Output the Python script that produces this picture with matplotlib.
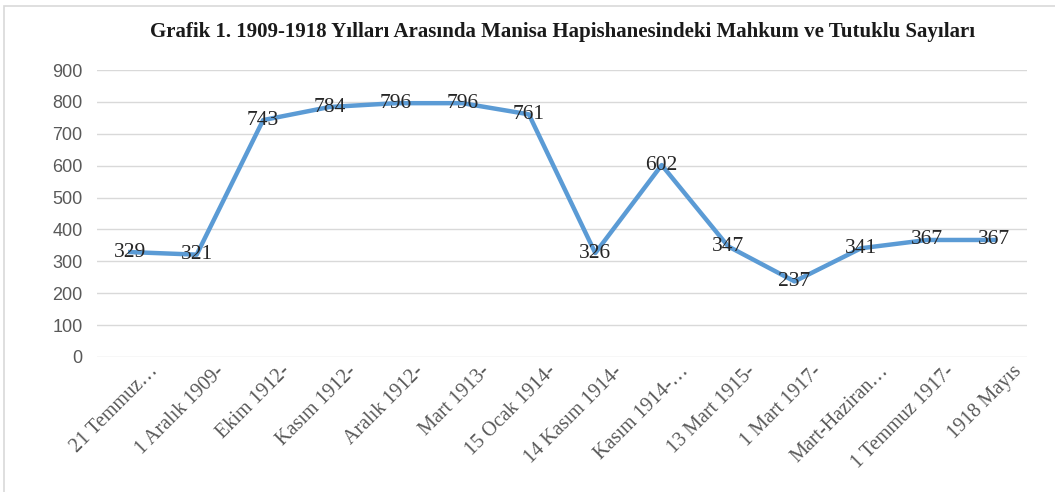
import matplotlib
matplotlib.use('Agg')
import matplotlib.pyplot as plt
import matplotlib.transforms as mtransforms
from matplotlib.patches import Rectangle

# Data
categories = ['21 Temmuz…', '1 Aralık 1909-', 'Ekim 1912-', 'Kasım 1912-',
              'Aralık 1912-', 'Mart 1913-', '15 Ocak 1914-', '14 Kasım 1914-',
              'Kasım 1914-…', '13 Mart 1915-', '1 Mart 1917-', 'Mart-Haziran…',
              '1 Temmuz 1917-', '1918 Mayıs']
values = [329, 321, 743, 784, 796, 796, 761, 326, 602, 347, 237, 341, 367, 367]
yticks = list(range(0, 1000, 100))

title = 'Grafik 1. 1909-1918 Yılları Arasında Manisa Hapishanesindeki Mahkum ve Tutuklu Sayıları'

fig = plt.figure(figsize=(10.55, 4.92), dpi=100)
ax = fig.add_axes([0.092, 0.2744, 0.8815, 0.5833])

# outer frame
fig.patches.append(Rectangle((4/1055, -0.1), 1.2, 1 - 6/492 + 0.1, transform=fig.transFigure,
                             fill=False, edgecolor='#d9d9d9', linewidth=1.2))

x = list(range(len(categories)))
ax.plot(x, values, color='#5b9bd5', linewidth=3.2, solid_joinstyle='round', zorder=3)
for xi, v in zip(x, values):
    ax.text(xi, v, str(v), ha='center', va='center', fontsize=15.5,
            family='Liberation Serif', color='#262626', zorder=4)

ax.set_xlim(-0.5, len(categories) - 0.5)
ax.set_ylim(0, 900)
ax.set_yticks(yticks)
ax.set_yticklabels([str(t) for t in yticks], family='Liberation Sans', fontsize=13, color='#595959')
ax.yaxis.grid(True, color='#d9d9d9', linewidth=1)
ax.set_axisbelow(True)
ax.tick_params(axis='both', length=0)
ax.tick_params(axis='y', pad=10.5)
for s in ax.spines.values():
    s.set_visible(False)

ax.set_xticks(x)
labels = ax.set_xticklabels(categories, rotation=45, ha='right', va='top',
                            rotation_mode='anchor', family='Liberation Serif',
                            fontsize=14.5, color='#595959')
offset = mtransforms.ScaledTranslation(18/100, 0, fig.dpi_scale_trans)
for lab in labels:
    lab.set_transform(lab.get_transform() + offset)

fig.text(0.533, 1 - 32/492, title, ha='center', va='center', fontsize=15,
         fontweight='bold', family='Liberation Serif', color='#1a1a1a')

fig.savefig('out.png', dpi=100)
